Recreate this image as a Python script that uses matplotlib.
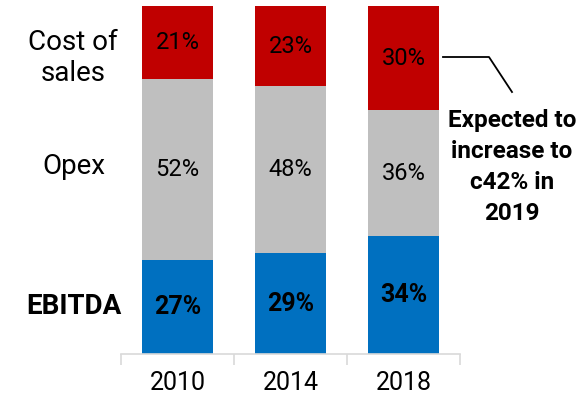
import numpy as np
import matplotlib.pyplot as plt

years = ["2010", "2014", "2018"]
ebitda = np.array([27, 29, 34])
opex = np.array([52, 48, 36])
cost_of_sales = np.array([21, 23, 30])

plt.rcParams['font.family'] = ["Roboto", "DejaVu Sans"]

fig = plt.figure(figsize=(5.8, 3.99), dpi=100)
ax = fig.add_axes([121/580, 45/399, 339/580, 348/399])

x = np.arange(len(years))
w = 0.62
ax.bar(x, ebitda, w, color="#0070C0")
ax.bar(x, opex, w, bottom=ebitda, color="#BFBFBF")
ax.bar(x, cost_of_sales, w, bottom=ebitda + opex, color="#C00000")

for i in range(len(years)):
    ax.text(x[i], ebitda[i] / 2, f"{ebitda[i]}%", ha="center", va="center",
            fontsize=18, fontweight="bold")
    ax.text(x[i], ebitda[i] + opex[i] / 2, f"{opex[i]}%", ha="center", va="center",
            fontsize=17)
    ax.text(x[i], ebitda[i] + opex[i] + cost_of_sales[i] / 2, f"{cost_of_sales[i]}%",
            ha="center", va="center", fontsize=17)

ax.set_xlim(-0.5, 2.5)
ax.set_ylim(0, 100)
ax.set_xticks(x)
ax.set_xticklabels(years, fontsize=18)
ax.set_xticks([-0.5, 0.5, 1.5, 2.5], minor=True)
ax.tick_params(axis="x", which="major", length=0, pad=12)
ax.tick_params(axis="x", which="minor", length=8, color="#D9D9D9", width=1.2)
ax.set_yticks([])
for s in ["top", "right", "left"]:
    ax.spines[s].set_visible(False)
ax.spines["bottom"].set_color("#D9D9D9")
ax.spines["bottom"].set_linewidth(1.2)

# series labels on the left
fig.text(73/580, 1 - 58/399, "Cost of\nsales", ha="center", va="center", fontsize=20,
         linespacing=1.15)
fig.text(74/580, 1 - 166/399, "Opex", ha="center", va="center", fontsize=20)
fig.text(74/580, 1 - 307/399, "EBITDA", ha="center", va="center", fontsize=20,
         fontweight="bold")

# callout on the right
fig.text(512/580, 1 - 167/399, "Expected to\nincrease to\nc42% in\n2019", ha="center",
         va="center", fontsize=17.5, fontweight="bold", linespacing=1.45)
fig.add_artist(plt.Line2D([443/580, 489/580, 512/580],
                          [1 - 57/399, 1 - 57/399, 1 - 92/399],
                          color="black", linewidth=1.3))

fig.savefig("out.png", dpi=100)
